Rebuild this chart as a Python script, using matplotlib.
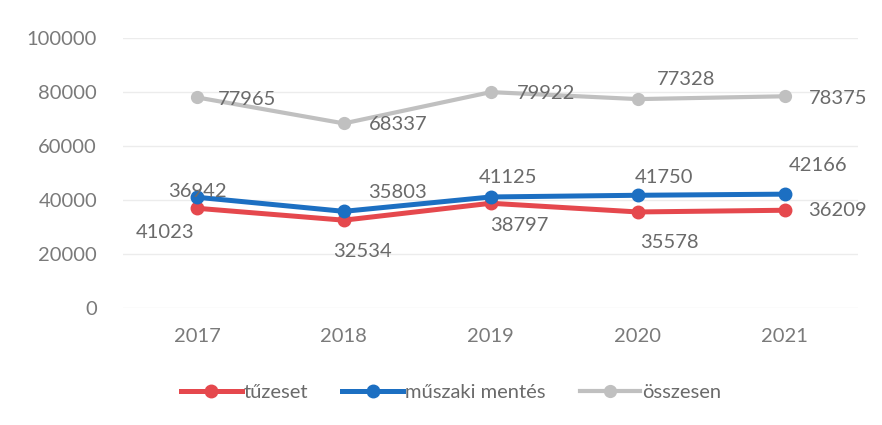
import matplotlib.pyplot as plt

# data
years = ['2017', '2018', '2019', '2020', '2021']
tuzeset = [36942, 32534, 38797, 35578, 36209]
muszaki = [41023, 35803, 41125, 41750, 42166]
osszesen = [77965, 68337, 79922, 77328, 78375]

# label texts as printed in the original (2017 labels are swapped there)
tuzeset_labels = ['41023', '32534', '38797', '35578', '36209']
muszaki_labels = ['36942', '35803', '41125', '41750', '42166']
osszesen_labels = ['77965', '68337', '79922', '77328', '78375']

# label offsets in pixels (dx, dy)
tuz_off = [(-32, -24), (19, -31), (28, -22), (32, -31), (53, 0)]
mus_off = [(0, 6), (54, 19), (17, 19), (26, 18), (33, 29)]
ossz_off = [(50, -2), (54, -1), (55, -1), (48, 20), (53, -2)]

plt.rcParams['font.family'] = ['Lato', 'DejaVu Sans']
txt = '#6a6a6a'

fig = plt.figure(figsize=(8.82, 4.25), dpi=100)
ax = fig.add_axes([0.14, 0.275, 0.833, 0.636])

x = range(len(years))
ax.plot(x, tuzeset, color='#e5484d', lw=3.6, marker='o', ms=9, label='tűzeset', zorder=3)
ax.plot(x, muszaki, color='#1c6fc2', lw=3.6, marker='o', ms=9, label='műszaki mentés', zorder=4)
ax.plot(x, osszesen, color='#c0c0c0', lw=3, marker='o', ms=8.5, label='összesen', zorder=2)

for vals, labs, offs in [(tuzeset, tuzeset_labels, tuz_off),
                         (muszaki, muszaki_labels, mus_off),
                         (osszesen, osszesen_labels, ossz_off)]:
    for i, v in enumerate(vals):
        ax.annotate(labs[i], (i, v), xytext=offs[i], textcoords='offset pixels',
                    ha='center', va='center', fontsize=14.5, color=txt, zorder=5)

ax.set_xlim(-0.5, 4.5)
ax.set_ylim(0, 100000)
ax.set_yticks(range(0, 100001, 20000))
ax.set_xticks(list(x))
ax.set_xticklabels(years)
ax.tick_params(length=0, labelsize=14.5, labelcolor='#7a7a7a')
ax.tick_params(axis='y', pad=19)
ax.tick_params(axis='x', pad=14)
ax.grid(axis='y', color='#ececec', lw=1)
ax.set_axisbelow(True)
for s in ax.spines.values():
    s.set_visible(False)

ax.legend(loc='upper center', bbox_to_anchor=(0.446, -0.215), ncol=3, frameon=False,
          fontsize=14.5, labelcolor=txt, handlelength=3.0, handletextpad=0.1,
          columnspacing=1.7)

fig.savefig('out.png', dpi=100)
